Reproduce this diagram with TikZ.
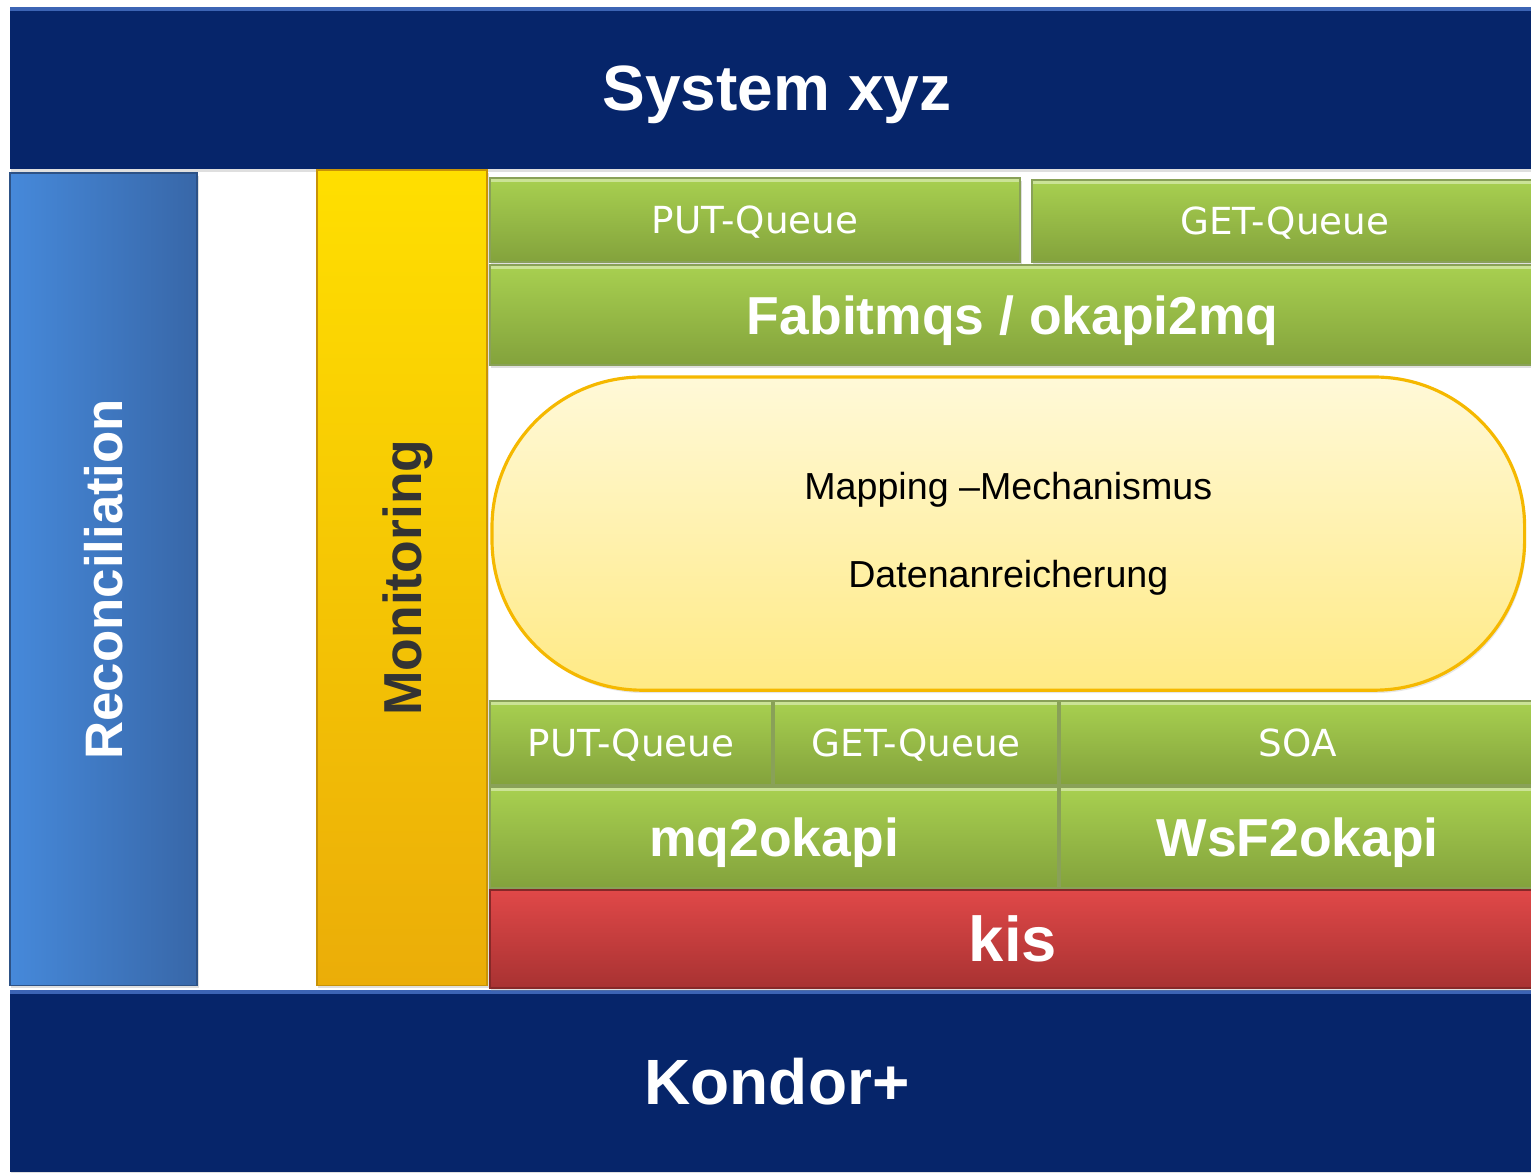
\documentclass[tikz,border=0pt]{standalone}
\usepackage{fontspec}
\setmainfont{Liberation Sans}
\newfontfamily\queuefont{DejaVu Sans}
\usetikzlibrary{shadows}

\definecolor{navy}{HTML}{06256A}
\definecolor{navyedge}{HTML}{3C64B4}
\definecolor{blueL}{HTML}{4689DA}
\definecolor{blueR}{HTML}{3867A8}
\definecolor{yelT}{HTML}{FFDF00}
\definecolor{yelB}{HTML}{EBAD08}
\definecolor{grnT}{HTML}{A8D050}
\definecolor{grnB}{HTML}{83A23C}
\definecolor{grnD}{HTML}{6B8A2E}
\definecolor{redT}{HTML}{E04848}
\definecolor{redB}{HTML}{A83232}
\definecolor{mapT}{HTML}{FFF9D8}
\definecolor{mapB}{HTML}{FFEA85}
\definecolor{mapD}{HTML}{F5B800}

\begin{document}
\begin{tikzpicture}[x=0.01cm,y=-0.01cm,
    every node/.style={inner sep=0pt,outer sep=0pt,anchor=north west},
    layer/.style={rectangle,text depth=0pt,drop shadow={opacity=.25,shadow xshift=.4pt,shadow yshift=-.8pt}},
    bar/.style={layer,fill=navy,text=white,font=\bfseries\fontsize{18.2}{22}\selectfont,
      path picture={\fill[navyedge] (path picture bounding box.north west) rectangle ([yshift=-1.2pt]path picture bounding box.north east);}},
    greenbox/.style={layer,top color=grnT,bottom color=grnB,draw=grnD!80,line width=.5pt,text=white,
      path picture={\fill[grnT!60!white] (path picture bounding box.north west) rectangle ([yshift=-1pt]path picture bounding box.north east);}},
    queue/.style={greenbox,font=\queuefont\fontsize{10.6}{12}\selectfont},
    tool/.style={greenbox,font=\bfseries\fontsize{15.2}{18}\selectfont}]
  \useasboundingbox (0,0) rectangle (1531,1172);
  % outer layers
  \node[bar,minimum width=15.21cm,minimum height=1.62cm] (xyz) at (10,7) {\hspace*{.12cm}System xyz};
  \node[bar,minimum width=15.21cm,minimum height=1.82cm] (kondor) at (10,990) {\hspace*{.12cm}Kondor+};
  % side pillars
  \node[layer,left color=blueL,right color=blueR,draw=blueR!80!black,line width=.4pt,
    minimum width=1.87cm,minimum height=8.12cm] (recon) at (10,173) {};
  \node[rotate=90,anchor=center,text=white,font=\bfseries\fontsize{15}{18}\selectfont]
    (recontxt) at (recon.center) {Reconciliation};
  \node[layer,top color=yelT,bottom color=yelB,draw=yelB!85!black,line width=.4pt,
    minimum width=1.70cm,minimum height=8.15cm] (monitor) at (317,170) {};
  \node[rotate=90,anchor=center,text=black!80,font=\bfseries\fontsize{15.2}{18}\selectfont]
    (monitortxt) at ([xshift=.06cm]monitor.center) {Monitoring};
  % upper stack
  \node[queue,minimum width=5.30cm,minimum height=.84cm] (putA) at (490,178) {PUT-Queue};
  \node[queue,minimum width=5.05cm,minimum height=.82cm] (getA) at (1032,180) {GET-Queue};
  \node[tool,minimum width=10.45cm,minimum height=1.00cm] (fabit) at (490,265) {Fabitmqs / okapi2mq};
  % mapping
  \node[rectangle,rounded corners=1.5cm,top color=mapT,bottom color=mapB,draw=mapD,line width=.9pt,
    drop shadow={opacity=.2,shadow xshift=.4pt,shadow yshift=-.8pt},
    minimum width=10.32cm,minimum height=3.13cm,align=center,
    font=\fontsize{10.7}{25}\selectfont] (mapping) at (492,377)
    {Mapping \textendash Mechanismus\\Datenanreicherung};
  % lower stack
  \node[queue,minimum width=2.82cm,minimum height=.84cm] (putB) at (490,701) {PUT-Queue};
  \node[queue,minimum width=2.84cm,minimum height=.84cm] (getB) at (774,701) {GET-Queue};
  \node[queue,minimum width=4.75cm,minimum height=.84cm] (soa) at (1060,701) {SOA};
  \node[tool,minimum width=5.68cm,minimum height=1.01cm] (mq2) at (490,787) {mq2okapi};
  \node[tool,minimum width=4.75cm,minimum height=1.01cm] (wsf) at (1060,787) {WsF2okapi};
  \node[layer,top color=redT,bottom color=redB,draw=redB!80!black,line width=.5pt,
    minimum width=10.45cm,minimum height=.98cm,text=white,
    font=\bfseries\fontsize{18}{21}\selectfont] (kis) at (490,890) {kis};
\end{tikzpicture}
\end{document}
